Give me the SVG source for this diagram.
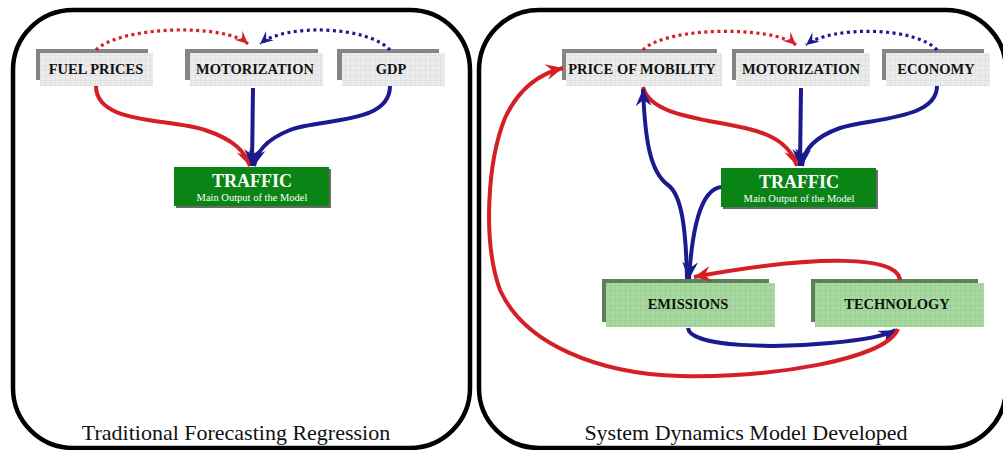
<svg xmlns="http://www.w3.org/2000/svg" width="1003" height="450" viewBox="0 0 1003 450">
<style>
.panel{fill:#fff;stroke:#000;stroke-width:4.5}
.sh{fill:#858585}
.lb{fill:url(#grid)}
.gsh{fill:#5f7f5c}
.gl{fill:url(#ggrid)}
.tr{fill:#0b8416}
.trs{fill:#6a6a6a}
.lbl{font-family:"Liberation Serif","Times New Roman",serif;font-weight:bold;font-size:14.5px;fill:#111;text-anchor:middle}
.tt{font-family:"Liberation Serif","Times New Roman",serif;font-weight:bold;font-size:18px;fill:#fff;text-anchor:middle}
.ts{font-family:"Liberation Serif","Times New Roman",serif;font-size:10.5px;fill:#fff;text-anchor:middle}
.cap{font-family:"Liberation Serif","Times New Roman",serif;font-size:22px;fill:#111;text-anchor:middle}
.r{fill:none;stroke:#d41f26;stroke-width:4}
.b{fill:none;stroke:#1b1b8f;stroke-width:4}
.rd{fill:none;stroke:#d41f26;stroke-width:3.2;stroke-dasharray:3 3.5}
.bd{fill:none;stroke:#1b1b8f;stroke-width:3.2;stroke-dasharray:3 3.5}
</style>
<defs>
<pattern id="grid" width="5" height="5" patternUnits="userSpaceOnUse">
<rect width="5" height="5" fill="#ececec"/>
<path d="M0,0.5H5M0.5,0V5" stroke="#e1e1e1" stroke-width="1"/>
</pattern>
<pattern id="ggrid" width="5" height="5" patternUnits="userSpaceOnUse">
<rect width="5" height="5" fill="#a8da9f"/>
<path d="M0,0.5H5M0.5,0V5" stroke="#9ccf94" stroke-width="1"/>
</pattern>
<marker id="ar" markerUnits="userSpaceOnUse" markerWidth="20" markerHeight="20" viewBox="-18 -10 20 20" refX="0" refY="0" orient="auto">
<path d="M0,0 L-17,-8 L-11,0 L-17,8 Z" fill="#d41f26"/>
</marker>
<marker id="ab" markerUnits="userSpaceOnUse" markerWidth="20" markerHeight="20" viewBox="-18 -10 20 20" refX="0" refY="0" orient="auto">
<path d="M0,0 L-17,-8 L-11,0 L-17,8 Z" fill="#1b1b8f"/>
</marker>
<marker id="ars" markerUnits="userSpaceOnUse" markerWidth="16" markerHeight="16" viewBox="-14 -8 16 16" refX="0" refY="0" orient="auto">
<path d="M0,0 L-13,-6 L-8,0 L-13,6 Z" fill="#d41f26"/>
</marker>
<marker id="abs" markerUnits="userSpaceOnUse" markerWidth="16" markerHeight="16" viewBox="-14 -8 16 16" refX="0" refY="0" orient="auto">
<path d="M0,0 L-13,-6 L-8,0 L-13,6 Z" fill="#1b1b8f"/>
</marker>
</defs>

<g id="panel-left">
<rect class="panel" x="13" y="10" width="457" height="438" rx="60" ry="60"/>
<text class="cap" x="236" y="440">Traditional Forecasting Regression</text>
</g>
<g id="panel-right">
<rect class="panel" x="479" y="10" width="527" height="438" rx="60" ry="60"/>
<text class="cap" x="746" y="440">System Dynamics Model Developed</text>
</g>

<g id="node-fuel-prices">
<rect class="sh" x="36" y="49" width="112" height="31"/>
<rect class="lb" x="40" y="53" width="113" height="33"/>
<text class="lbl" x="96" y="74">FUEL PRICES</text>
</g>
<g id="node-motorization-l">
<rect class="sh" x="185" y="49" width="133" height="31"/>
<rect class="lb" x="190" y="53" width="133" height="33"/>
<text class="lbl" x="255" y="74">MOTORIZATION</text>
</g>
<g id="node-gdp">
<rect class="sh" x="337" y="49" width="102" height="31"/>
<rect class="lb" x="342" y="53" width="103" height="33"/>
<text class="lbl" x="391" y="74">GDP</text>
</g>
<g id="node-traffic-l">
<rect class="trs" x="176" y="169" width="155" height="39"/>
<rect class="tr" x="174" y="167" width="155" height="39"/>
<text class="tt" x="252" y="187">TRAFFIC</text>
<text class="ts" x="252" y="201">Main Output of the Model</text>
</g>

<g id="node-price-of-mobility">
<rect class="sh" x="562" y="49" width="155" height="31"/>
<rect class="lb" x="566" y="53" width="156" height="33"/>
<text class="lbl" x="642" y="74">PRICE OF MOBILITY</text>
</g>
<g id="node-motorization-r">
<rect class="sh" x="732" y="49" width="132" height="31"/>
<rect class="lb" x="736" y="53" width="134" height="33"/>
<text class="lbl" x="801" y="74">MOTORIZATION</text>
</g>
<g id="node-economy">
<rect class="sh" x="882" y="49" width="102" height="31"/>
<rect class="lb" x="886" y="53" width="104" height="33"/>
<text class="lbl" x="936" y="74">ECONOMY</text>
</g>
<g id="node-traffic-r">
<rect class="trs" x="723" y="170" width="155" height="39"/>
<rect class="tr" x="721" y="168" width="155" height="39"/>
<text class="tt" x="799" y="188">TRAFFIC</text>
<text class="ts" x="799" y="202">Main Output of the Model</text>
</g>
<g id="node-emissions">
<rect class="gsh" x="602" y="279" width="167" height="43"/>
<rect class="gl" x="606" y="283" width="169" height="44"/>
<text class="lbl" x="688" y="309">EMISSIONS</text>
</g>
<g id="node-technology">
<rect class="gsh" x="811" y="279" width="167" height="43"/>
<rect class="gl" x="815" y="283" width="169" height="44"/>
<text class="lbl" x="897" y="309">TECHNOLOGY</text>
</g>

<g id="connectors">
<path class="rd" d="M96,50 C120,26 225,23 248,44" marker-end="url(#ars)"/>
<path class="bd" d="M390,50 C368,26 285,23 260,44" marker-end="url(#abs)"/>
<path class="r" d="M96,86 C96,125 170,118 205,130 C235,140 245,152 250,166" marker-end="url(#ar)"/>
<path class="b" d="M253,88 L252,166" marker-end="url(#ab)"/>
<path class="b" d="M390,86 C390,125 320,118 290,130 C265,140 257,152 254,166" marker-end="url(#ab)"/>

<path class="rd" d="M643,50 C666,26 775,26 796,45" marker-end="url(#ars)"/>
<path class="bd" d="M937,50 C915,26 830,26 806,45" marker-end="url(#abs)"/>
<path class="r" d="M643,87 C650,115 700,118 745,128 C780,136 792,150 797,166" marker-end="url(#ar)"/>
<path class="b" d="M801,88 L800,166" marker-end="url(#ab)"/>
<path class="b" d="M937,86 C937,120 870,118 840,128 C812,138 803,152 802,166" marker-end="url(#ab)"/>
<path class="b" d="M721,187 C700,190 692,230 689,279" marker-end="url(#ab)"/>
<path class="b" d="M687,279 C686,230 682,195 668,185 C650,172 645,140 643,89" marker-end="url(#ab)"/>
<path class="r" d="M900,280 C898,256 820,254 694,277" marker-end="url(#ar)"/>
<path class="b" d="M688,328 C690,348 780,348 830,343 C865,340 885,336 896,330" marker-end="url(#ab)"/>
<path class="r" d="M898,329 C885,360 770,378 680,376 C600,374 525,345 500,290 C482,240 488,160 505,118 C518,90 538,74 563,68" marker-end="url(#ar)"/>
</g>
</svg>
